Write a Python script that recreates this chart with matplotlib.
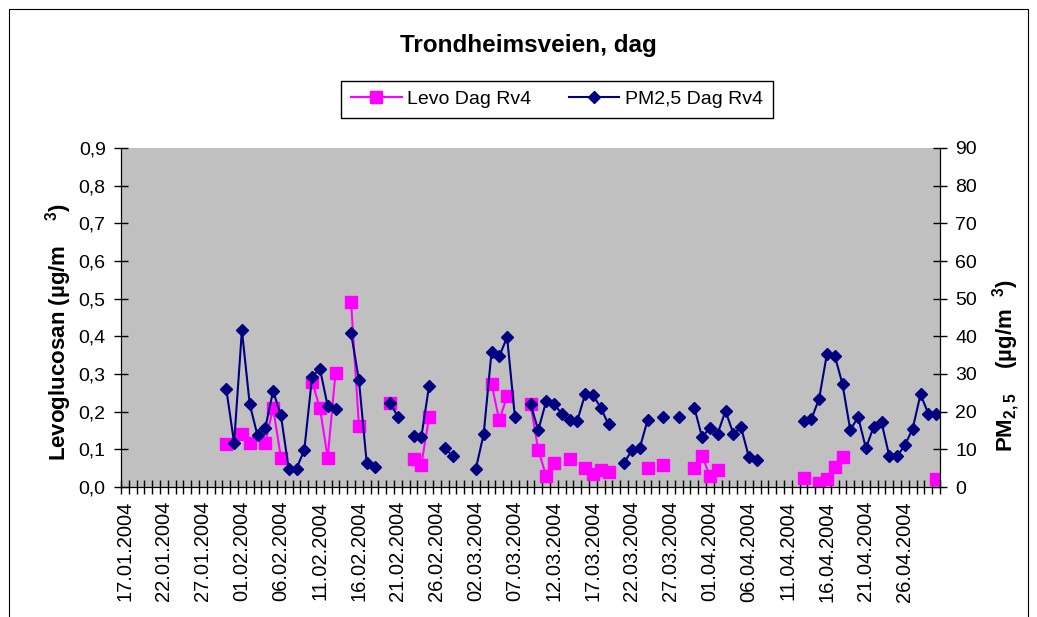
import numpy as np
import pandas as pd
import matplotlib
matplotlib.use('Agg')
import matplotlib.pyplot as plt
from matplotlib.patches import Rectangle

plt.rcParams['font.family'] = ['Liberation Sans', 'DejaVu Sans']
plt.rcParams['mathtext.fontset'] = 'custom'
plt.rcParams['mathtext.rm'] = 'Liberation Sans:bold'
plt.rcParams['mathtext.it'] = 'Liberation Sans:bold'
plt.rcParams['mathtext.bf'] = 'Liberation Sans:bold'

# PM2,5 (right axis, µg/m3)
pm_dates = ['30.01', '31.01', '01.02', '02.02', '03.02', '04.02', '05.02', '06.02',
            '07.02', '08.02', '09.02', '10.02', '11.02', '12.02', '13.02',
            '15.02', '16.02', '17.02', '18.02', '20.02', '21.02',
            '23.02', '24.02', '25.02', '27.02', '28.02',
            '02.03', '03.03', '04.03', '05.03', '06.03', '07.03',
            '09.03', '10.03', '11.03', '12.03', '13.03', '14.03', '15.03', '16.03',
            '17.03', '18.03', '19.03', '21.03', '22.03', '23.03', '24.03',
            '26.03', '28.03', '30.03', '31.03', '01.04', '02.04', '03.04', '04.04',
            '05.04', '06.04', '07.04',
            '13.04', '14.04', '15.04', '16.04', '17.04', '18.04', '19.04', '20.04',
            '21.04', '22.04', '23.04', '24.04', '25.04', '26.04', '27.04', '28.04',
            '29.04', '30.04']
pm_values = [26.0, 11.7, 41.6, 22.0, 13.7, 15.7, 25.5, 19.0,
             4.9, 4.9, 9.8, 29.3, 31.4, 21.5, 20.6,
             40.8, 28.4, 6.4, 5.4, 22.4, 18.6,
             13.6, 13.2, 26.9, 10.3, 8.3,
             4.9, 14.1, 35.8, 34.7, 39.8, 18.6,
             22.0, 15.1, 22.7, 22.0, 19.5, 17.7, 17.6, 24.6,
             24.4, 21.1, 16.6, 6.4, 9.8, 10.3, 17.7,
             18.6, 18.6, 21.1, 13.2, 15.7, 14.2, 20.2, 14.2,
             15.8, 7.9, 7.3,
             17.6, 18.0, 23.4, 35.3, 34.9, 27.3, 15.1, 18.6,
             10.3, 16.0, 17.2, 8.2, 8.2, 11.1, 15.5, 24.6,
             19.5, 19.5]

# Levoglucosan (left axis, µg/m3)
levo_dates = ['30.01', '01.02', '02.02', '04.02', '05.02', '06.02',
              '10.02', '11.02', '12.02', '13.02', '15.02', '16.02', '20.02',
              '23.02', '24.02', '25.02', '04.03', '05.03', '06.03',
              '09.03', '10.03', '11.03', '12.03', '14.03',
              '16.03', '17.03', '18.03', '19.03', '24.03', '26.03',
              '30.03', '31.03', '01.04', '02.04',
              '13.04', '15.04', '16.04', '17.04', '18.04', '30.04']
levo_values = [0.114, 0.142, 0.118, 0.118, 0.210, 0.078,
               0.279, 0.210, 0.078, 0.303, 0.490, 0.163, 0.224,
               0.074, 0.059, 0.186, 0.274, 0.177, 0.241,
               0.220, 0.098, 0.030, 0.065, 0.074,
               0.050, 0.034, 0.045, 0.039, 0.050, 0.058,
               0.050, 0.083, 0.029, 0.044,
               0.025, 0.010, 0.020, 0.054, 0.079, 0.020]

days = pd.date_range('2004-01-17', '2004-04-30', freq='D')


def to_series(dates, values):
    idx = pd.to_datetime([d + '.2004' for d in dates], format='%d.%m.%Y')
    return pd.Series(values, index=idx).reindex(days)


pm = to_series(pm_dates, pm_values)
levo = to_series(levo_dates, levo_values)

fig = plt.figure(figsize=(10.37, 6.17), dpi=100)
fig.patches.append(Rectangle((9 / 1037, -0.05), 1019 / 1037, 1 - 9 / 617 + 0.05,
                             transform=fig.transFigure, fill=False,
                             edgecolor='black', lw=0.8))

ax = fig.add_axes([121 / 1037, 1 - 487 / 617, 819 / 1037, 339 / 617])
ax2 = ax.twinx()
ax.set_facecolor('#C0C0C0')

l1, = ax.plot(levo.index, levo.values, color='#FF00FF', marker='s', ms=9,
              lw=1.5, label='Levo Dag Rv4')
l2, = ax2.plot(pm.index, pm.values, color='#000080', marker='D', ms=6,
               lw=1.5, label='PM2,5 Dag Rv4')

half = pd.Timedelta(hours=12)
ax.set_xlim(days[0] - half, days[-1] + half)
ax.set_ylim(0, 0.9)
ax2.set_ylim(0, 90)

yt = np.arange(0, 0.91, 0.1)
ax.set_yticks(yt)
ax.set_yticklabels([f'{v:.1f}'.replace('.', ',') for v in yt])
ax2.set_yticks(np.arange(0, 91, 10))

ax.set_xticks(days[::5])
ax.set_xticklabels([d.strftime('%d.%m.%Y') for d in days[::5]])
ax.set_xticks(pd.date_range(days[0] - half, periods=len(days) + 1, freq='D'), minor=True)
ax.tick_params(axis='x', which='major', length=0, pad=10, labelrotation=90, labelsize=14.5)
ax.tick_params(axis='x', which='minor', direction='inout', length=10, width=1)
ax.tick_params(axis='y', direction='inout', length=10, width=1, labelsize=14, pad=6)
ax2.tick_params(axis='y', direction='inout', length=10, width=1, labelsize=14, pad=6)

for a in (ax, ax2):
    a.spines['top'].set_visible(False)

ax.set_ylabel('Levoglucosan (µg/m    $^3$)', fontsize=16, fontweight='bold')
ax.yaxis.set_label_coords(-0.057, 0.457)
ax2.set_ylabel('PM$_{2,5}$    (µg/m  $^3$)', fontsize=16, fontweight='bold')
ax2.yaxis.set_label_coords(1.062, 0.36)

fig.text(0.51, 0.927, 'Trondheimsveien, dag', ha='center', va='center',
         fontsize=17.5, fontweight='bold')

fig.legend([l1, l2], ['Levo Dag Rv4', 'PM2,5 Dag Rv4'], loc='center',
           bbox_to_anchor=(557 / 1037, 1 - 99.5 / 617), ncol=2, fontsize=14,
           frameon=True, fancybox=False, edgecolor='black', framealpha=1,
           handlelength=2.6, handletextpad=0.3, columnspacing=1.9,
           borderpad=0.5, borderaxespad=0)

fig.savefig('out.png', dpi=100)
